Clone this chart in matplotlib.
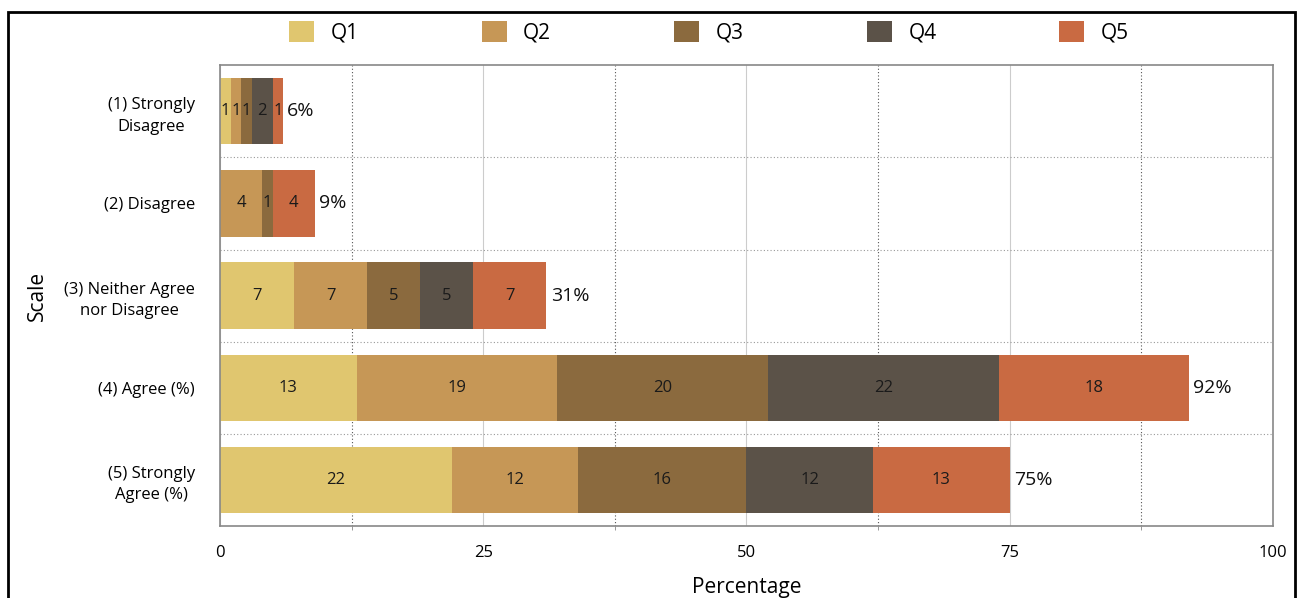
import numpy as np
import matplotlib.pyplot as plt
from matplotlib.patches import Rectangle

plt.rcParams['font.family'] = ['Open Sans', 'DejaVu Sans']

# Data
categories = ["(1) Strongly\nDisagree", "(2) Disagree", "(3) Neither Agree\nnor Disagree",
              "(4) Agree (%)", "(5) Strongly\nAgree (%)"]
series_names = ["Q1", "Q2", "Q3", "Q4", "Q5"]
q1 = [1, 0, 7, 13, 22]
q2 = [1, 4, 7, 19, 12]
q3 = [1, 1, 5, 20, 16]
q4 = [2, 0, 5, 22, 12]
q5 = [1, 4, 7, 18, 13]
totals = ["6%", "9%", "31%", "92%", "75%"]
colors = ["#E0C66F", "#C69756", "#8B6A3E", "#5B5248", "#C96A42"]

fig = plt.figure(figsize=(12.97, 5.98), dpi=100)
ax = fig.add_axes([0.1696, 0.1204, 0.8119, 0.7706])

y = np.arange(len(categories))
left = np.zeros(len(categories))
for name, vals, col in zip(series_names, [q1, q2, q3, q4, q5], colors):
    vals = np.array(vals, dtype=float)
    ax.barh(y, vals, left=left, height=0.72, color=col, label=name)
    for i, v in enumerate(vals):
        if v > 0:
            ax.text(left[i] + v / 2, y[i], f"{int(v)}", ha="center", va="center",
                    fontsize=12, color="#1a1a1a")
    left += vals

for i, t in enumerate(totals):
    ax.text(left[i] + 0.4, y[i], t, ha="left", va="center", fontsize=14, color="#111111")

ax.set_xlim(0, 100)
ax.set_ylim(4.5, -0.5)
ax.set_yticks(y)
ax.set_yticklabels(categories, fontsize=12)
for lab in ax.get_yticklabels():
    lab.set_multialignment("center")
    lab.set_linespacing(1.45)
ax.set_xticks([0, 25, 50, 75, 100])
ax.set_xticks([12.5, 37.5, 62.5, 87.5], minor=True)
ax.set_yticks([0.5, 1.5, 2.5, 3.5], minor=True)
ax.tick_params(axis="x", which="major", length=0, labelsize=12, pad=14)
ax.tick_params(axis="x", which="minor", length=3, color="#888888")
ax.tick_params(axis="y", which="both", length=0, pad=18)
ax.grid(axis="x", which="major", color="#cccccc", linewidth=0.8, linestyle="-")
ax.grid(axis="x", which="minor", color="#555555", linewidth=0.8, linestyle=(0, (1, 2)))
ax.grid(axis="y", which="minor", color="#999999", linewidth=0.8, linestyle=(0, (1, 2)))
ax.set_axisbelow(True)
for s in ax.spines.values():
    s.set_color("#888888")
    s.set_linewidth(1.2)

ax.set_xlabel("Percentage", fontsize=15, labelpad=11)
ax.set_ylabel("Scale", fontsize=15)
ax.yaxis.set_label_coords(-0.1635, 0.5)

fig.legend(loc="center", bbox_to_anchor=(709 / 1297, 1 - 32 / 598), ncol=5, frameon=False,
           fontsize=15, handlelength=1.2, handleheight=1.2, handletextpad=0.8,
           columnspacing=5.9)

# outer frame
fig.patches.append(Rectangle((8 / 1297, -0.05), 1287 / 1297, 1.05 - 12 / 598,
                             transform=fig.transFigure, fill=False,
                             edgecolor="black", linewidth=2))

fig.savefig("out.png", dpi=100)
